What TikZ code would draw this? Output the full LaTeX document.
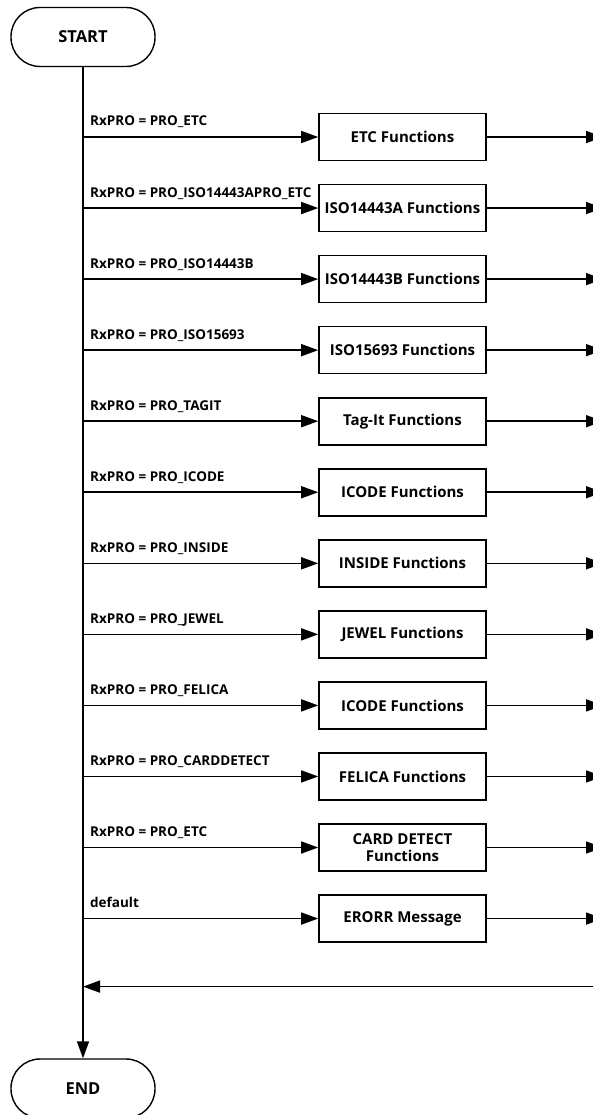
\documentclass[tikz,border=0pt]{standalone}
\usepackage{fontspec}
\setmainfont{Open Sans}
\usetikzlibrary{arrows.meta,positioning}

\begin{document}
\begin{tikzpicture}[
      x=1pt, y=1pt,
      term/.style={
        draw,
        rounded corners=29pt,
        line width=1.4pt,
        minimum width=144pt,
        minimum height=59pt,
        font=\fontsize{16.5}{19}\selectfont\bfseries
      },
      func/.style={
        draw,
        line width=1.6pt,
        minimum width=167pt,
        minimum height=47pt,
        align=center,
        font=\fontsize{15}{17}\selectfont\bfseries
      },
      cond/.style={anchor=base west, inner sep=0pt, font=\fontsize{13.5}{16}\selectfont\bfseries},
      flow/.style={-{Triangle[length=17pt,width=12pt]}, line width=1.6pt},
      node distance=22.45pt
    ]
      \useasboundingbox (0,0) rectangle (593,-1115);
      \node[term] (start) at (83,-37) {START};
      \node[term] (end) at (83,-1088.5) {END};
      \coordinate (edge) at (603,0);
      \coordinate (back) at (603,-986.6);

      \node[func] (f1) at (402.5,-137) {ETC Functions};
      \node[func, below=of f1] (f2) {ISO14443A Functions};
      \node[func, below=of f2] (f3) {ISO14443B Functions};
      \node[func, below=of f3] (f4) {ISO15693 Functions};
      \node[func, below=of f4] (f5) {Tag-It Functions};
      \node[func, below=of f5] (f6) {ICODE Functions};
      \node[func, below=of f6] (f7) {INSIDE Functions};
      \node[func, below=of f7] (f8) {JEWEL Functions};
      \node[func, below=of f8] (f9) {ICODE Functions};
      \node[func, below=of f9] (f10) {FELICA Functions};
      \node[func, below=of f10] (f11) {CARD DETECT\\Functions};
      \node[func, below=of f11] (f12) {ERORR Message};

      \node[cond] (c1) at ([shift={(7,11)}]start |- f1) {RxPRO = PRO\_ETC};
      \node[cond] (c2) at ([shift={(7,11)}]start |- f2) {RxPRO = PRO\_ISO14443APRO\_ETC};
      \node[cond] (c3) at ([shift={(7,11)}]start |- f3) {RxPRO = PRO\_ISO14443B};
      \node[cond] (c4) at ([shift={(7,11)}]start |- f4) {RxPRO = PRO\_ISO15693};
      \node[cond] (c5) at ([shift={(7,11)}]start |- f5) {RxPRO = PRO\_TAGIT};
      \node[cond] (c6) at ([shift={(7,11)}]start |- f6) {RxPRO = PRO\_ICODE};
      \node[cond] (c7) at ([shift={(7,11)}]start |- f7) {RxPRO = PRO\_INSIDE};
      \node[cond] (c8) at ([shift={(7,11)}]start |- f8) {RxPRO = PRO\_JEWEL};
      \node[cond] (c9) at ([shift={(7,11)}]start |- f9) {RxPRO = PRO\_FELICA};
      \node[cond] (c10) at ([shift={(7,11)}]start |- f10) {RxPRO = PRO\_CARDDETECT};
      \node[cond] (c11) at ([shift={(7,11)}]start |- f11) {RxPRO = PRO\_ETC};
      \node[cond] (c12) at ([shift={(7,11)}]start |- f12) {default};

      % main line
      \draw[flow] (start) -- (end);

      % branches into the functions
      \draw[flow] (start |- f1) -- (f1);
      \draw[flow] (start |- f2) -- (f2);
      \draw[flow] (start |- f3) -- (f3);
      \draw[flow] (start |- f4) -- (f4);
      \draw[flow] (start |- f5) -- (f5);
      \draw[flow] (start |- f6) -- (f6);
      \draw[flow] (start |- f7) -- (f7);
      \draw[flow] (start |- f8) -- (f8);
      \draw[flow] (start |- f9) -- (f9);
      \draw[flow] (start |- f10) -- (f10);
      \draw[flow] (start |- f11) -- (f11);
      \draw[flow] (start |- f12) -- (f12);

      % out to the right
      \draw[flow] (f1) -- (f1 -| edge);
      \draw[flow] (f2) -- (f2 -| edge);
      \draw[flow] (f3) -- (f3 -| edge);
      \draw[flow] (f4) -- (f4 -| edge);
      \draw[flow] (f5) -- (f5 -| edge);
      \draw[flow] (f6) -- (f6 -| edge);
      \draw[flow] (f7) -- (f7 -| edge);
      \draw[flow] (f8) -- (f8 -| edge);
      \draw[flow] (f9) -- (f9 -| edge);
      \draw[flow] (f10) -- (f10 -| edge);
      \draw[flow] (f11) -- (f11 -| edge);
      \draw[flow] (f12) -- (f12 -| edge);

      % return
      \draw[flow] (back) -- (start |- back);
    \end{tikzpicture}
\end{document}
